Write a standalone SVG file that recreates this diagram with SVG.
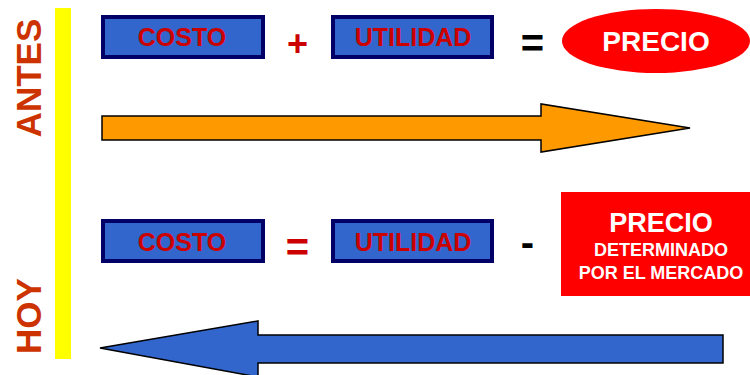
<svg xmlns="http://www.w3.org/2000/svg" width="750" height="375" viewBox="0 0 750 375">
  <style>
    .box { fill: #3366CC; stroke: #000066; stroke-width: 4; }
    .arrow { stroke: #000000; stroke-width: 1.5; stroke-linejoin: miter; }
  </style>

  <rect width="750" height="375" fill="#FFFFFF"/>

  <!-- time axis bar -->
  <rect id="timeline" x="55" y="8" width="16" height="351" fill="#FFFF00"/>

  <g id="label-antes">
    <text font-family="Liberation Sans" font-weight="700" font-size="35" fill="#CC3300" text-anchor="middle" transform="translate(41,78) rotate(-90)">ANTES</text>
  </g>
  <g id="label-hoy">
    <text font-family="Liberation Sans" font-weight="700" font-size="35" fill="#CC3300" text-anchor="middle" transform="translate(41,316) rotate(-90)">HOY</text>
  </g>

  <!-- upper equation: costo + utilidad = precio -->
  <g id="costo-antes">
    <rect class="box" x="103" y="17" width="160" height="40"/>
    <text font-family="Liberation Sans" font-weight="700" font-size="25" fill="#CC0000" text-anchor="middle" x="182" y="46">COSTO</text>
  </g>
  <g id="op-plus">
    <text font-family="Liberation Sans" font-weight="700" font-size="36" fill="#CC0000" text-anchor="middle" x="297.5" y="56">+</text>
  </g>
  <g id="utilidad-antes">
    <rect class="box" x="333" y="17" width="159" height="40"/>
    <text font-family="Liberation Sans" font-weight="700" font-size="25" fill="#CC0000" text-anchor="middle" x="413" y="46">UTILIDAD</text>
  </g>
  <g id="op-equals-top">
    <text font-family="Liberation Sans" font-weight="700" font-size="40" fill="#000000" text-anchor="middle" x="532.5" y="57">=</text>
  </g>
  <g id="precio-antes">
    <ellipse cx="656" cy="41" rx="94" ry="32" fill="#FF0000"/>
    <text font-family="Liberation Sans" font-weight="700" font-size="28" fill="#FFFFFF" text-anchor="middle" x="656" y="51">PRECIO</text>
  </g>

  <!-- lower equation: costo = utilidad - precio -->
  <g id="costo-hoy">
    <rect class="box" x="103" y="221" width="160" height="40"/>
    <text font-family="Liberation Sans" font-weight="700" font-size="25" fill="#CC0000" text-anchor="middle" x="182" y="251">COSTO</text>
  </g>
  <g id="op-equals-bottom">
    <text font-family="Liberation Sans" font-weight="700" font-size="40" fill="#CC0000" text-anchor="middle" x="297.5" y="261">=</text>
  </g>
  <g id="utilidad-hoy">
    <rect class="box" x="333" y="221" width="159" height="40"/>
    <text font-family="Liberation Sans" font-weight="700" font-size="25" fill="#CC0000" text-anchor="middle" x="413" y="251">UTILIDAD</text>
  </g>
  <g id="op-minus">
    <text font-family="Liberation Sans" font-weight="700" font-size="40" fill="#000000" text-anchor="middle" x="527.5" y="256">-</text>
  </g>
  <g id="precio-hoy">
    <rect x="561" y="192" width="189" height="104" fill="#FF0000"/>
    <text font-family="Liberation Sans" font-weight="700" font-size="27" fill="#FFFFFF" text-anchor="middle" x="661" y="232">PRECIO</text>
    <text font-family="Liberation Sans" font-weight="700" font-size="18" fill="#FFFFFF" text-anchor="middle" x="661" y="256">DETERMINADO</text>
    <text font-family="Liberation Sans" font-weight="700" font-size="18" fill="#FFFFFF" text-anchor="middle" x="661" y="279">POR EL MERCADO</text>
  </g>

  <!-- block arrows -->
  <g id="connectors">
    <polygon class="arrow" fill="#FF9900" points="102,116 541,116 541,104 690,128 541,152 541,140 102,140"/>
    <polygon class="arrow" fill="#3366CC" points="723,335 258,335 258,321 100,348 258,377 258,363 723,363"/>
  </g>
</svg>
